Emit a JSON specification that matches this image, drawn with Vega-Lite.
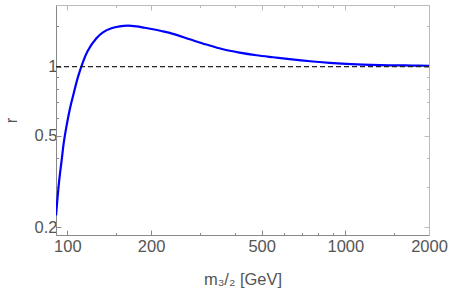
{
  "$schema": "https://vega.github.io/schema/vega-lite/v6.json",
  "width": 373,
  "height": 230,
  "autosize": {"type": "none"},
  "padding": {"left": 56, "top": 5, "right": 21, "bottom": 60},
  "config": {
    "view": {"stroke": null},
    "font": "Liberation Sans",
    "axis": {
      "labelFont": "Liberation Sans",
      "titleFont": "Liberation Sans",
      "labelFontSize": 16.5,
      "titleFontSize": 16.5,
      "labelColor": "#555555",
      "titleColor": "#555555",
      "titleFontWeight": "normal",
      "grid": false,
      "tickWidth": 1,
      "labelFlush": false,
      "labelOverlap": false
    }
  },
  "datasets": {
    "curve": [
      {"m": 91, "r": 0.225},
      {"m": 92.5, "r": 0.282},
      {"m": 93.8, "r": 0.333},
      {"m": 95.4, "r": 0.393},
      {"m": 97.0, "r": 0.465},
      {"m": 99.2, "r": 0.548},
      {"m": 101.9, "r": 0.648},
      {"m": 105.4, "r": 0.766},
      {"m": 109.2, "r": 0.902},
      {"m": 113.5, "r": 1.038},
      {"m": 118.3, "r": 1.17},
      {"m": 127.2, "r": 1.329},
      {"m": 134.3, "r": 1.411},
      {"m": 144, "r": 1.469},
      {"m": 154.2, "r": 1.498},
      {"m": 165.2, "r": 1.508},
      {"m": 177.1, "r": 1.498},
      {"m": 189.7, "r": 1.477},
      {"m": 203.2, "r": 1.455},
      {"m": 217.8, "r": 1.429},
      {"m": 239.8, "r": 1.389},
      {"m": 275.4, "r": 1.316},
      {"m": 316.2, "r": 1.248},
      {"m": 362.8, "r": 1.19},
      {"m": 416.7, "r": 1.151},
      {"m": 478.6, "r": 1.121},
      {"m": 549.1, "r": 1.099},
      {"m": 630.4, "r": 1.079},
      {"m": 764.6, "r": 1.053},
      {"m": 878, "r": 1.038},
      {"m": 1008, "r": 1.028},
      {"m": 1329, "r": 1.016},
      {"m": 1747, "r": 1.011},
      {"m": 2000, "r": 1.009}
    ],
    "ref": [
      {"m": 91, "r": 1},
      {"m": 2000, "r": 1}
    ]
  },
  "layer": [
    {
      "data": {"name": "curve"},
      "mark": {"type": "line", "color": "#0000ff", "strokeWidth": 2.2, "interpolate": "catmull-rom", "clip": true},
      "encoding": {
        "x": {
          "field": "m", "type": "quantitative",
          "scale": {"type": "log", "domain": [91, 2000], "nice": false},
          "axis": {
            "orient": "bottom",
            "title": "m₃/₂ [GeV]",
            "values": [100, 150, 200, 300, 400, 500, 600, 700, 800, 900, 1000, 1500, 2000],
            "labelExpr": "indexof([100,200,500,1000,2000], datum.value) >= 0 ? toString(datum.value) : ''",
            "tickSize": {"condition": {"test": "indexof([100,200,500,1000,2000], datum.value) >= 0", "value": -5}, "value": -2.5},
            "tickColor": "#888888",
            "domainColor": "#888888",
            "labelPadding": 8,
            "titlePadding": 14
          }
        },
        "y": {
          "field": "r", "type": "quantitative",
          "scale": {"type": "log", "domain": [0.185, 1.855], "nice": false},
          "axis": {
            "orient": "left",
            "title": "r",
            "values": [0.2, 0.3, 0.4, 0.5, 0.6, 0.7, 0.8, 0.9, 1, 1.5],
            "labelExpr": "indexof([0.2,0.5,1], datum.value) >= 0 ? toString(datum.value) : ''",
            "tickSize": {"condition": {"test": "indexof([0.2,0.5,1], datum.value) >= 0", "value": -5}, "value": -2.5},
            "tickColor": "#888888",
            "domainColor": "#888888",
            "labelPadding": 4,
            "titlePadding": 15
          }
        }
      }
    },
    {
      "data": {"name": "ref"},
      "mark": {"type": "line", "color": "#222222", "strokeWidth": 1.3, "strokeDash": [5, 3]},
      "encoding": {
        "x": {
          "field": "m", "type": "quantitative",
          "axis": {
            "orient": "top",
            "title": null,
            "labels": false,
            "values": [100, 150, 200, 300, 400, 500, 600, 700, 800, 900, 1000, 1500, 2000],
            "tickSize": {"condition": {"test": "indexof([100,200,500,1000,2000], datum.value) >= 0", "value": -5}, "value": -2.5},
            "tickColor": "#bbbbbb",
            "domainColor": "#bbbbbb"
          }
        },
        "y": {
          "field": "r", "type": "quantitative",
          "axis": {
            "orient": "right",
            "title": null,
            "labels": false,
            "values": [0.2, 0.3, 0.4, 0.5, 0.6, 0.7, 0.8, 0.9, 1, 1.5],
            "tickSize": {"condition": {"test": "indexof([0.2,0.5,1], datum.value) >= 0", "value": -5}, "value": -2.5},
            "tickColor": "#bbbbbb",
            "domainColor": "#bbbbbb"
          }
        }
      }
    }
  ],
  "resolve": {"axis": {"x": "independent", "y": "independent"}}
}
